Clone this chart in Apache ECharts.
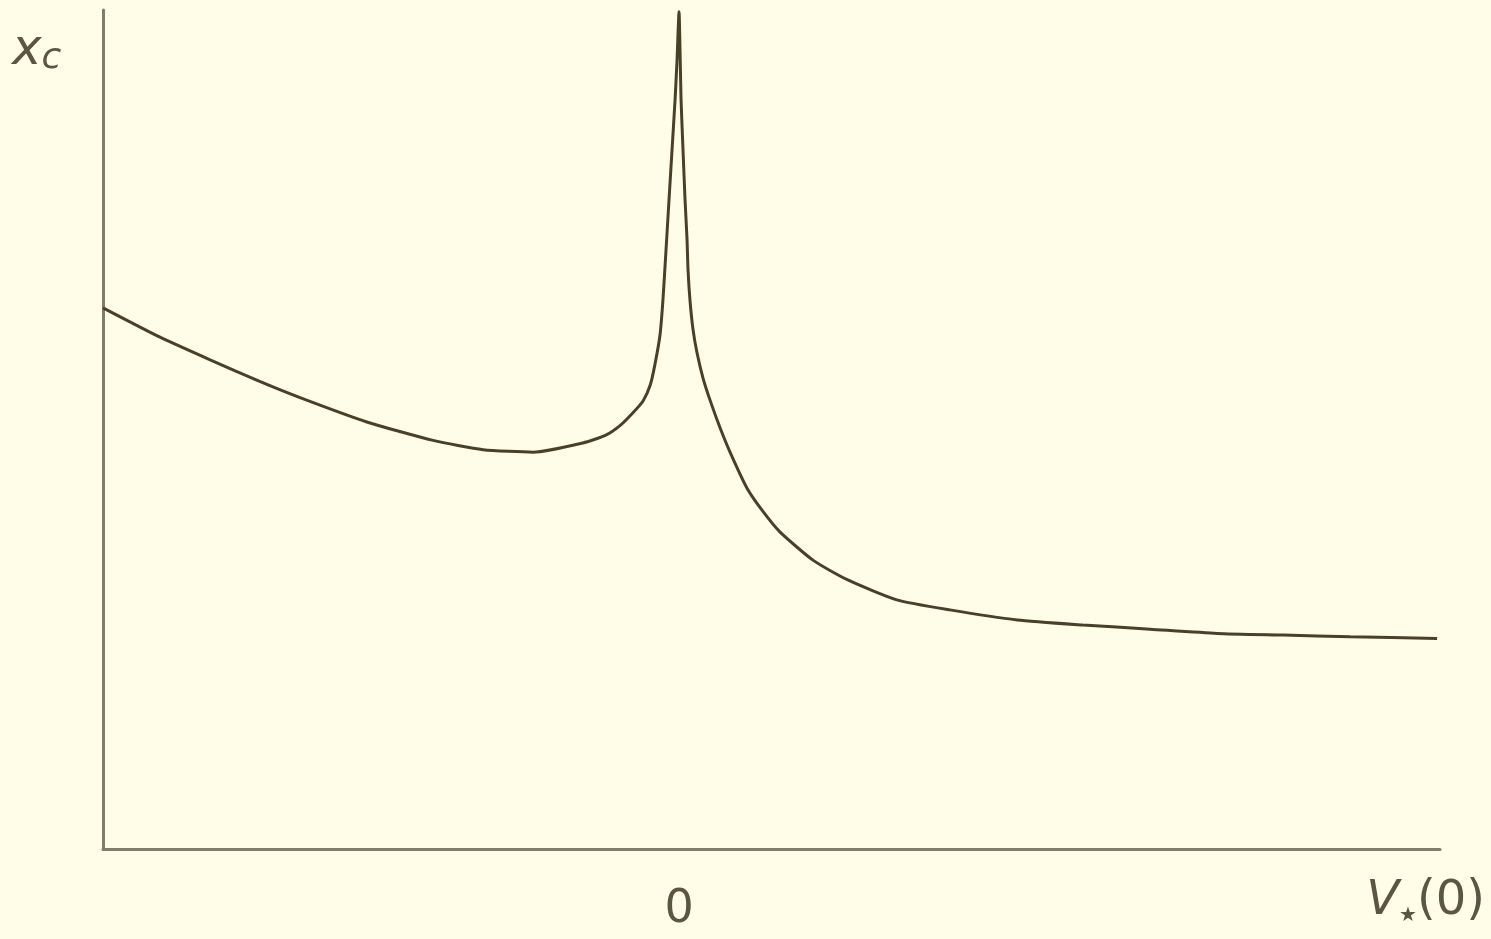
<!DOCTYPE html>
<html>
<head>
<meta charset="utf-8">
<script src="https://cdn.jsdelivr.net/npm/echarts@6/dist/echarts.min.js"></script>
<style>
html,body{margin:0;padding:0;background:#fffde8;}
#c{width:1491px;height:939px;}
</style>
</head>
<body>
<div id="c"></div>
<script>
// x values: V*(0), scaled so that the left axis edge is -1
var xValues = [-1, -0.901, -0.814, -0.727, -0.658, -0.542, -0.427, -0.340, -0.253, -0.167, -0.128, -0.102, -0.080, -0.0625, -0.050, -0.042, -0.033, -0.028, -0.0226, -0.0174, -0.0122, -0.0069, -0.0035, 0,
  0.0017, 0.0035, 0.0069, 0.0104, 0.0139, 0.0156, 0.019, 0.0243, 0.031, 0.0417, 0.0538, 0.0712, 0.0885, 0.118, 0.146, 0.175, 0.233, 0.292, 0.378, 0.470, 0.587, 0.701, 0.818, 0.934, 1.049, 1.165, 1.316];
// y values: x_c
var yValues = [0.645, 0.610, 0.583, 0.557, 0.538, 0.509, 0.487, 0.476, 0.473, 0.484, 0.493, 0.505, 0.520, 0.534, 0.553, 0.577, 0.613, 0.654, 0.714, 0.774, 0.833, 0.893, 0.940, 0.998,
  0.952, 0.893, 0.833, 0.774, 0.726, 0.690, 0.654, 0.619, 0.592, 0.561, 0.535, 0.502, 0.473, 0.430, 0.402, 0.378, 0.344, 0.321, 0.297, 0.285, 0.273, 0.267, 0.262, 0.257, 0.255, 0.253, 0.251];
var xTickLabels = ['0'];

var data = xValues.map(function (x, i) { return [x, yValues[i]]; });
var chart = echarts.init(document.getElementById('c'));
var axisColor = '#827d69';
var textColor = '#5b5641';
chart.setOption({
  backgroundColor: '#fffde8',
  animation: false,
  grid: {left: 103, right: 51, top: 10, bottom: 90},
  xAxis: {
    type: 'value', min: -1, max: 1.321, interval: 1,
    axisLine: {show: true, onZero: false, lineStyle: {color: axisColor, width: 3}},
    axisTick: {show: false},
    splitLine: {show: false},
    axisLabel: {
      show: true, margin: 38, color: textColor,
      fontFamily: 'DejaVu Sans', fontSize: 46,
      formatter: function (v) { return Math.abs(v) < 1e-9 ? xTickLabels[0] : ''; }
    }
  },
  yAxis: {
    type: 'value', min: 0, max: 1,
    axisLine: {show: true, onZero: false, lineStyle: {color: axisColor, width: 3}},
    axisTick: {show: false},
    splitLine: {show: false},
    axisLabel: {show: false}
  },
  series: [{
    type: 'line', data: data, smooth: 0.2, symbol: 'none',
    lineStyle: {color: '#4a4028', width: 3}
  }],
  graphic: [
    {
      type: 'text', left: 12, top: 26,
      style: {
        rich: {
          a: {fontFamily: 'DejaVu Sans', fontStyle: 'italic', fontSize: 50, fill: textColor},
          b: {fontFamily: 'DejaVu Sans', fontStyle: 'italic', fontSize: 36, fill: textColor, verticalAlign: 'bottom', padding: [16, 0, 0, 0]}
        },
        text: '{a|x}{b|c}'
      }
    },
    {
      type: 'text', right: 6, top: 878,
      style: {
        rich: {
          a: {fontFamily: 'DejaVu Sans', fontStyle: 'italic', fontSize: 48, fill: textColor},
          s: {fontFamily: 'DejaVu Sans', fontSize: 20, fill: textColor, verticalAlign: 'bottom', padding: [28, 0, 0, 0]},
          p: {fontFamily: 'DejaVu Sans', fontSize: 48, fill: textColor}
        },
        text: '{a|V}{s|★}{p|(0)}'
      }
    }
  ]
});
</script>
</body>
</html>
